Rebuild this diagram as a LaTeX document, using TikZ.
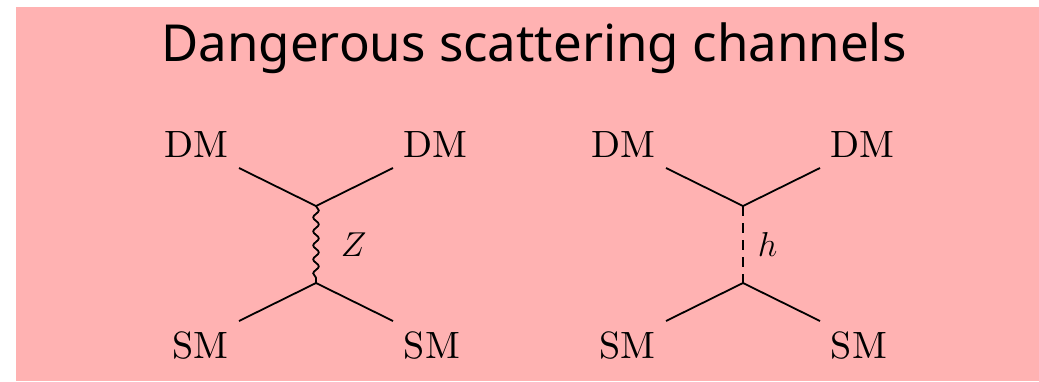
\documentclass[tikz,border=0pt]{standalone}
\usepackage{fontspec}
\newfontfamily\titlefont{Noto Sans}
\newfontfamily\lblfont{lmroman10-regular.otf}
\usetikzlibrary{positioning,decorations.pathmorphing}

\begin{document}
\begin{tikzpicture}[
    x=0.5pt, y=-0.5pt,
    line width=0.9pt,
    lbl/.style={font=\lblfont\fontsize{19}{21}\selectfont, inner sep=5pt},
    boson/.style={decorate, decoration={snake, amplitude=1.4pt, segment length=7pt}},
    scalar/.style={dash pattern=on 5pt off 3.5pt}
  ]
    \useasboundingbox (0,0) rectangle (1039,381);
    \fill[red!30] (16,7) rectangle (1039,381);
    \node[font=\titlefont\fontsize{25.5}{30}\selectfont, anchor=base] (title) at (534,61) {Dangerous scattering channels};

    % Z exchange
    \coordinate (zin1) at (239,168);
    \coordinate (zin2) at (393,168);
    \coordinate (zout1) at (239,321);
    \coordinate (zout2) at (393,321);
    \coordinate (zv1) at (316,206);
    \coordinate (zv2) at (316,283);
    \node[lbl, above left=0pt of zin1] (zdm1) {DM};
    \node[lbl, above right=0pt of zin2] (zdm2) {DM};
    \node[lbl, below left=0pt of zout1] (zsm1) {SM};
    \node[lbl, below right=0pt of zout2] (zsm2) {SM};
    \draw (zin1) -- (zv1) -- (zin2);
    \draw (zout1) -- (zv2) -- (zout2);
    \draw[boson] (zv1) -- (zv2) node[lbl, midway, right=7pt] (zlab) {$Z$};

    % h exchange
    \coordinate (hin1) at (666,168);
    \coordinate (hin2) at (820,168);
    \coordinate (hout1) at (666,321);
    \coordinate (hout2) at (820,321);
    \coordinate (hv1) at (743,206);
    \coordinate (hv2) at (743,283);
    \node[lbl, above left=0pt of hin1] (hdm1) {DM};
    \node[lbl, above right=0pt of hin2] (hdm2) {DM};
    \node[lbl, below left=0pt of hout1] (hsm1) {SM};
    \node[lbl, below right=0pt of hout2] (hsm2) {SM};
    \draw (hin1) -- (hv1) -- (hin2);
    \draw (hout1) -- (hv2) -- (hout2);
    \draw[scalar] (hv1) -- (hv2) node[lbl, midway, right=2pt] (hlab) {$h$};
\end{tikzpicture}
\end{document}
